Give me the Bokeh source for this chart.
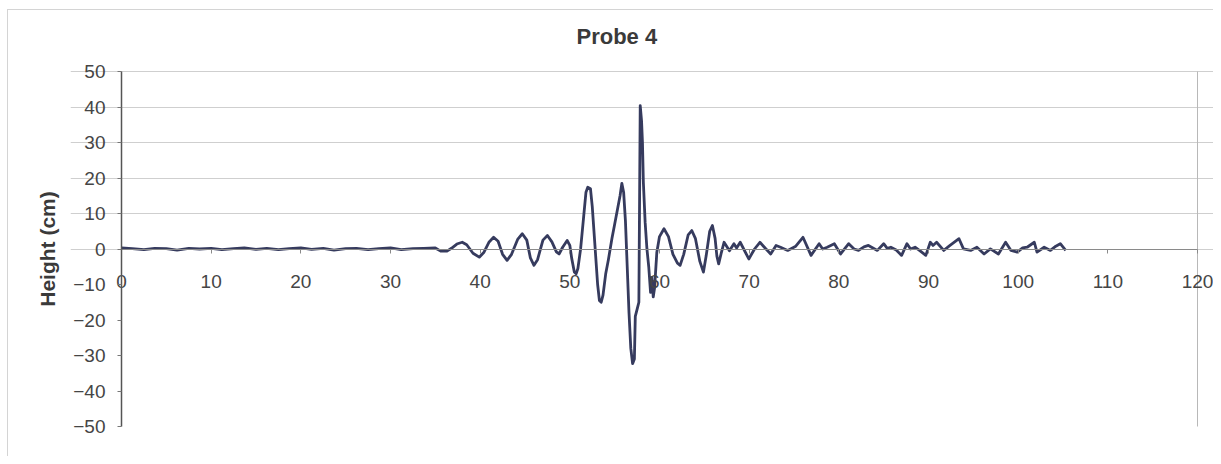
from bokeh.plotting import figure
from bokeh.models import SingleIntervalTicker, FixedTicker, Range1d, LinearAxis, Grid
from bokeh.embed import file_html
from bokeh.resources import INLINE

title_text = "Probe 4"
y_label = "Height (cm)"
x_ticks_step = 10
y_ticks_step = 10

# Time (x) and wave height (cm)
time_s = [
    0.0, 1.2, 2.5, 3.7, 5.0, 6.2, 7.5, 8.7, 10.0, 11.2, 12.5, 13.7, 15.0, 16.2,
    17.5, 18.7, 20.0, 21.2, 22.5, 23.7, 25.0, 26.2, 27.5, 28.7, 30.0, 31.2,
    32.5, 33.7, 35.0,
    35.6, 36.3, 36.8, 37.4, 38.0, 38.5, 39.2, 39.9, 40.4, 41.0, 41.5, 42.0,
    42.5, 43.0, 43.5, 44.2, 44.7, 45.2, 45.6, 46.0, 46.4, 47.0, 47.5, 48.0,
    48.5, 48.8, 49.2, 49.7, 50.0, 50.2, 50.5, 50.7, 50.9, 51.2, 51.5, 51.8,
    52.0, 52.3, 52.5, 52.8, 53.1, 53.3, 53.5, 53.7, 54.0, 54.3, 54.7, 55.0,
    55.3, 55.6, 55.8, 56.0, 56.2, 56.4, 56.6, 56.8, 57.0, 57.2, 57.3, 57.5,
    57.7, 57.85, 58.0, 58.1, 58.2, 58.4, 58.6, 58.8, 59.0, 59.15, 59.3, 59.45,
    59.7, 60.0, 60.5, 61.0, 61.5, 62.0, 62.3, 62.7, 63.2, 63.6, 64.0, 64.5,
    64.9, 65.2, 65.6, 65.9, 66.2, 66.4, 66.6, 66.9,
    67.2, 67.8, 68.3, 68.6, 69.0, 69.96, 70.6, 71.2, 71.8, 72.4, 73.0, 73.5,
    74.3, 75.2, 76.0, 76.9, 77.8, 78.2, 78.7, 79.5, 80.2, 81.1, 81.7, 82.2,
    82.8, 83.3, 84.3, 85.0, 85.4, 85.8, 86.4, 87.0, 87.6, 88.0, 88.5, 89.1,
    89.7, 90.2, 90.5, 90.9, 91.7, 92.4, 93.4, 93.9, 94.7, 95.4, 96.2, 96.9,
    97.8, 98.6, 99.2, 99.9, 100.5, 101.0, 101.8, 102.1, 102.9, 103.6, 104.2,
    104.7, 105.3,
]
height_cm = [
    0.3, 0.1, -0.2, 0.2, 0.1, -0.3, 0.2, 0.0, 0.2, -0.2, 0.1, 0.3, -0.1, 0.2,
    -0.2, 0.1, 0.3, -0.1, 0.2, -0.3, 0.1, 0.2, -0.2, 0.1, 0.3, -0.2,
    0.1, 0.2, 0.3,
    -0.6, -0.6, 0.2, 1.4, 1.9, 1.2, -1.2, -2.3, -1.0, 2.0, 3.3, 2.2,
    -1.5, -3.2, -1.5, 2.8, 4.3, 2.5, -2.5, -4.6, -3.0, 2.5, 3.8, 2.0,
    -0.8, -1.4, 0.5, 2.4, 1.0, -2.5, -6.5, -7.0, -5.5, 0.0, 8.0, 16.0,
    17.4, 17.0, 12.0, 1.0, -10.0, -14.5, -15.0, -13.0, -7.0, -3.0, 3.0, 7.0,
    11.0, 15.0, 18.5, 16.0, 8.0, -5.0, -18.0, -28.0, -32.3, -31.0, -19.0, -17.0,
    -15.0, 40.4, 36.0, 30.0, 18.8, 7.5, 0.0, -5.0, -12.2, -8.0, -13.5, -11.0,
    -1.0, 3.5, 5.7, 3.5, -1.5, -4.0, -4.6, -1.5, 4.0, 5.2, 3.0, -3.5,
    -6.5, -2.0, 5.0, 6.6, 3.0, -2.0, -4.2, -1.0,
    1.9, -0.5, 1.5, 0.3, 1.9, -2.8, 0.0, 1.9, 0.2, -1.4, 1.0, 0.5,
    -0.4, 0.8, 3.3, -1.8, 1.5, 0.0, 0.5, 1.5, -1.4, 1.5, 0.0, -0.4,
    0.6, 1.0, -0.4, 1.5, 0.2, 0.5, -0.3, -1.8, 1.5, 0.0, 0.5, -0.6,
    -1.8, 1.9, 1.0, 1.9, -0.4, 1.0, 2.9, 0.05, -0.4, 0.5, -1.4, 0.05,
    -1.4, 1.9, -0.4, -0.9, 0.3, 0.5, 1.9, -0.9, 0.5, -0.4, 0.8,
    1.5, -0.4,
]

x_min, x_max = 0, 120
y_min, y_max = -50, 50

# frame extends a little past the plot box so the crossing-axis labels are not clipped
px_x = 1076 / (x_max - x_min)
px_y = 355 / (y_max - y_min)
p = figure(
    width=1213, height=456,
    x_range=Range1d(x_min - 51 / px_x, x_max + 16 / px_x),
    y_range=Range1d(y_min - 12 / px_y, y_max + 12 / px_y),
    output_backend="svg", toolbar_location=None,
    min_border_left=70, min_border_right=0,
    min_border_top=59, min_border_bottom=18,
    background_fill_color="white", border_fill_color=None,
    x_axis_location=None, y_axis_location=None,
)
p.center = [r for r in p.center if not isinstance(r, Grid)]
p.styles = {"box-shadow": "inset 7px 9px 0 0 #ffffff, inset 8px 10px 0 0 #d4d4d4"}
p.outline_line_color = None

p.title.text = title_text
p.title.align = "left"
p.title.offset = 506
p.title.text_font = "Liberation Sans"
p.title.text_font_size = "22px"
p.title.text_font_style = "bold"
p.title.text_color = "#3a3a3a"
p.title.standoff = 21

# horizontal gridlines (also form the top/bottom of the plot box)
ygrid = Grid(dimension=1, ticker=SingleIntervalTicker(interval=y_ticks_step),
             bounds=(x_min, x_max), grid_line_color="#cfcfcf", grid_line_width=1)
p.add_layout(ygrid)

# right edge of the plot box
p.segment(x0=[x_max], y0=[y_min], x1=[x_max], y1=[y_max],
          line_color="#b8b8b8", line_width=1)

p.line(time_s, height_cm, line_color="#363b5e", line_width=2.8, line_join="round")

# x axis crossing at y = 0
xaxis = LinearAxis(fixed_location=0, bounds=(x_min, x_max),
                   ticker=SingleIntervalTicker(interval=x_ticks_step))
xaxis.major_tick_in = 0
xaxis.major_tick_out = 4
xaxis.minor_tick_line_color = None
xaxis.major_label_standoff = 22
xaxis.axis_line_color = "#8a8a8a"
xaxis.major_tick_line_color = "#8a8a8a"
xaxis.major_label_text_font = "Liberation Sans"
xaxis.major_label_text_font_size = "19px"
xaxis.major_label_text_color = "#454545"
p.add_layout(xaxis, "below")

# y axis at x = 0
yaxis = LinearAxis(fixed_location=0, bounds=(y_min, y_max),
                   ticker=SingleIntervalTicker(interval=y_ticks_step))
yaxis.major_tick_in = 0
yaxis.major_tick_out = 4
yaxis.minor_tick_line_color = None
yaxis.major_label_standoff = 12
yaxis.axis_line_color = "#555555"
yaxis.axis_line_width = 1.5
yaxis.major_tick_line_color = "#777777"
yaxis.major_label_text_font = "Liberation Sans"
yaxis.major_label_text_font_size = "19px"
yaxis.major_label_text_color = "#454545"
p.add_layout(yaxis, "left")

# axis carrying only the title of the y axis
ylab = LinearAxis(ticker=FixedTicker(ticks=[]))
ylab.axis_line_color = None
ylab.major_tick_line_color = None
ylab.minor_tick_line_color = None
ylab.major_label_text_font_size = "0px"
ylab.axis_label = y_label
ylab.axis_label_text_font = "Liberation Sans"
ylab.axis_label_text_font_size = "21px"
ylab.axis_label_text_font_style = "bold"
ylab.axis_label_text_color = "#3a3a3a"
ylab.axis_label_standoff = 12
p.add_layout(ylab, "left")

open("out.html", "w").write(file_html(p, INLINE))
